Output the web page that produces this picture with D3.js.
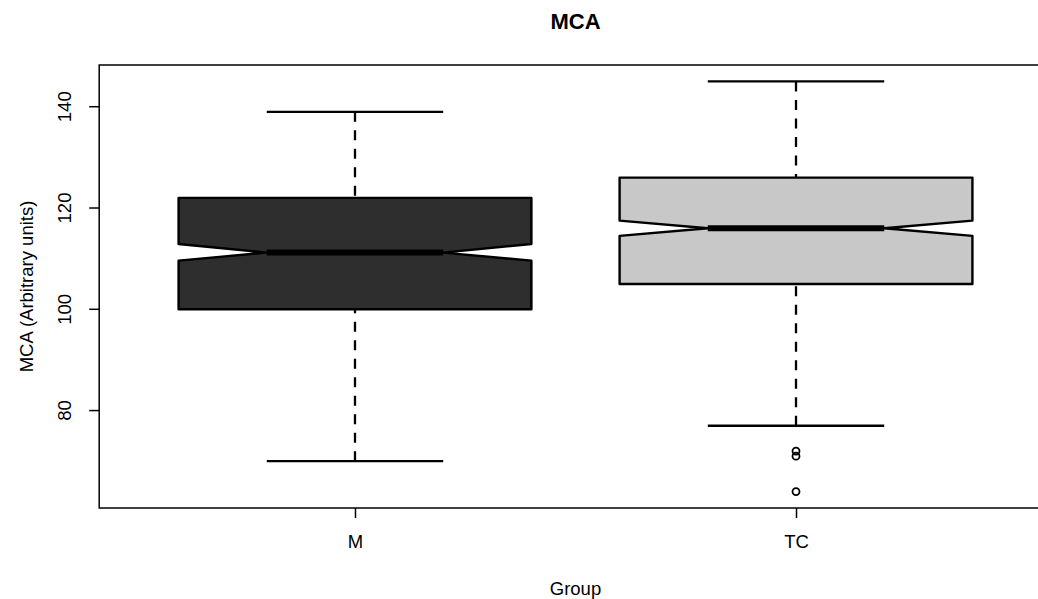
<!DOCTYPE html>
<html>
<head>
<meta charset="utf-8">
<script src="https://cdn.jsdelivr.net/npm/d3@7"></script>
<style>
body { margin: 0; background: #fff; }
text { font-family: "Liberation Sans", Arial, sans-serif; fill: #000; }
</style>
</head>
<body>
<svg width="1038" height="599"></svg>
<script>
// values
const groups = ["M", "TC"]
const fills = ["#2e2e2e", "#c8c8c8"]
const whiskerLow = [70, 77]
const q1 = [100, 105]
const medians = [111.2, 116]
const q3 = [122, 126]
const whiskerHigh = [139, 145]
const notchLow = [109.6, 114.5]
const notchHigh = [112.9, 117.5]
const outliers = [[], [72, 71, 64]]
const yTicks = [80, 100, 120, 140]

const svg = d3.select("svg")
const plotLeft = 99.2, plotRight = 1051.8, plotTop = 65, plotBottom = 508

// R style: x from 0.5..2.5 widened by 4%
const x = d3.scaleLinear().domain([0.42, 2.58]).range([plotLeft, plotRight])
const y = d3.scaleLinear().domain([60.76, 148.24]).range([plotBottom, plotTop])
const half = x(1.4) - x(1)

const rows = groups.map((g, i) => ({
	name: g, i: i + 1, fill: fills[i],
	lo: whiskerLow[i], q1: q1[i], med: medians[i], q3: q3[i], hi: whiskerHigh[i],
	nlo: notchLow[i], nhi: notchHigh[i], out: outliers[i]
}))

const box = svg.append("g")

rows.forEach(r => {
	const cx = x(r.i)
	// dashed whiskers, drawn from the whisker end toward the box
	box.append("line").attr("x1", cx).attr("x2", cx)
		.attr("y1", y(r.lo)).attr("y2", y(r.q1))
		.attr("stroke", "#000").attr("stroke-width", 2.3).attr("stroke-dasharray", "10 8.5")
	box.append("line").attr("x1", cx).attr("x2", cx)
		.attr("y1", y(r.hi)).attr("y2", y(r.q3))
		.attr("stroke", "#000").attr("stroke-width", 2.3).attr("stroke-dasharray", "10 8.5")
	// staples
	;[r.lo, r.hi].forEach(v => box.append("line")
		.attr("x1", cx - half / 2).attr("x2", cx + half / 2)
		.attr("y1", y(v)).attr("y2", y(v))
		.attr("stroke", "#000").attr("stroke-width", 2.3))

	// notched box
	const pts = [
		[cx - half, y(r.q1)], [cx - half, y(r.nlo)], [cx - half / 2, y(r.med)],
		[cx - half, y(r.nhi)], [cx - half, y(r.q3)], [cx + half, y(r.q3)],
		[cx + half, y(r.nhi)], [cx + half / 2, y(r.med)], [cx + half, y(r.nlo)],
		[cx + half, y(r.q1)]
	]
	box.append("polygon").attr("points", pts.map(p => p.join(",")).join(" "))
		.attr("fill", r.fill).attr("stroke", "#000").attr("stroke-width", 2.4)
		.attr("stroke-linejoin", "round")

	// median
	box.append("line").attr("x1", cx - half / 2).attr("x2", cx + half / 2)
		.attr("y1", y(r.med)).attr("y2", y(r.med))
		.attr("stroke", "#000").attr("stroke-width", 6)

	r.out.forEach(v => box.append("circle")
		.attr("cx", cx).attr("cy", y(v)).attr("r", 3.5)
		.attr("fill", "none").attr("stroke", "#000").attr("stroke-width", 1.8))
})

// frame (right side falls outside the picture)
svg.append("rect").attr("x", plotLeft).attr("y", plotTop)
	.attr("width", plotRight - plotLeft).attr("height", plotBottom - plotTop)
	.attr("fill", "none").attr("stroke", "#000").attr("stroke-width", 1.5)

// y axis
const yAxis = svg.append("g").attr("transform", "translate(" + plotLeft + ",0)")
	.call(d3.axisLeft(y).tickValues(yTicks).tickSize(10).tickFormat(d3.format("d")))
yAxis.select(".domain").remove()
yAxis.selectAll("line").attr("stroke", "#000").attr("stroke-width", 1.5)
yAxis.selectAll(".tick").attr("transform", null)
yAxis.selectAll(".tick line").attr("y1", d => y(d)).attr("y2", d => y(d))
yAxis.selectAll("text")
	.attr("x", null).attr("dy", null).attr("y", null)
	.attr("text-anchor", "middle")
	.attr("transform", d => "translate(" + (71 - plotLeft) + "," + y(d) + ") rotate(-90)")
	.style("font-size", "18.5px").style("font-family", null)

// x axis
const xAxis = svg.append("g").attr("transform", "translate(0," + plotBottom + ")")
	.call(d3.axisBottom(x).tickValues([1, 2]).tickSize(10).tickFormat((d, i) => groups[i]))
xAxis.select(".domain").remove()
xAxis.selectAll("line").attr("stroke", "#000").attr("stroke-width", 1.5)
xAxis.selectAll("text").attr("y", 548 - plotBottom).attr("dy", null)
	.style("font-size", "18.5px").style("font-family", null)

// titles
svg.append("text").attr("x", (plotLeft + plotRight) / 2).attr("y", 28.5)
	.attr("text-anchor", "middle").style("font-size", "22px").style("font-weight", "bold")
	.text("MCA")
svg.append("text").attr("x", (plotLeft + plotRight) / 2).attr("y", 594.5)
	.attr("text-anchor", "middle").style("font-size", "18.5px")
	.text("Group")
svg.append("text").attr("transform", "translate(32.5," + ((plotTop + plotBottom) / 2) + ") rotate(-90)")
	.attr("text-anchor", "middle").style("font-size", "18.5px")
	.text("MCA (Arbitrary units)")
</script>
</body>
</html>
